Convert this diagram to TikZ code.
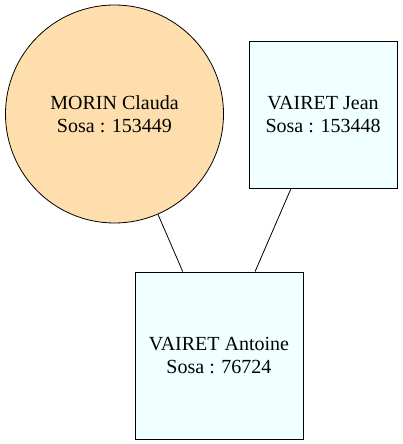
\documentclass[tikz,border=0pt]{standalone}
\usepackage{fontspec}
\setmainfont{Liberation Serif}
\definecolor{navajo}{RGB}{255,222,173}
\definecolor{azurebox}{RGB}{240,255,255}
\begin{document}
\begin{tikzpicture}[x=1pt,y=1pt,
  person/.style={draw=black,line width=0.8pt,inner sep=0pt,align=center,
    font=\fontsize{20}{23}\selectfont},
  womanc/.style={person,circle,fill=navajo,minimum size=218pt},
  manbox/.style={person,rectangle,fill=azurebox},
  link/.style={draw=black,line width=0.8pt}]
\useasboundingbox (0,0) rectangle (402,444);
\node[womanc] (morin) at (114.5,330) {MORIN Clauda\\Sosa : 153449};
\node[manbox,minimum width=148pt,minimum height=147pt] (jean) at (323,329.5) {VAIRET Jean\\Sosa : 153448};
\node[manbox,minimum width=168pt,minimum height=167pt] (antoine) at (219,88.5) {VAIRET Antoine\\Sosa : 76724};
\draw[link] (morin) -- (antoine);
\draw[link] (jean) -- (antoine);
\end{tikzpicture}
\end{document}
